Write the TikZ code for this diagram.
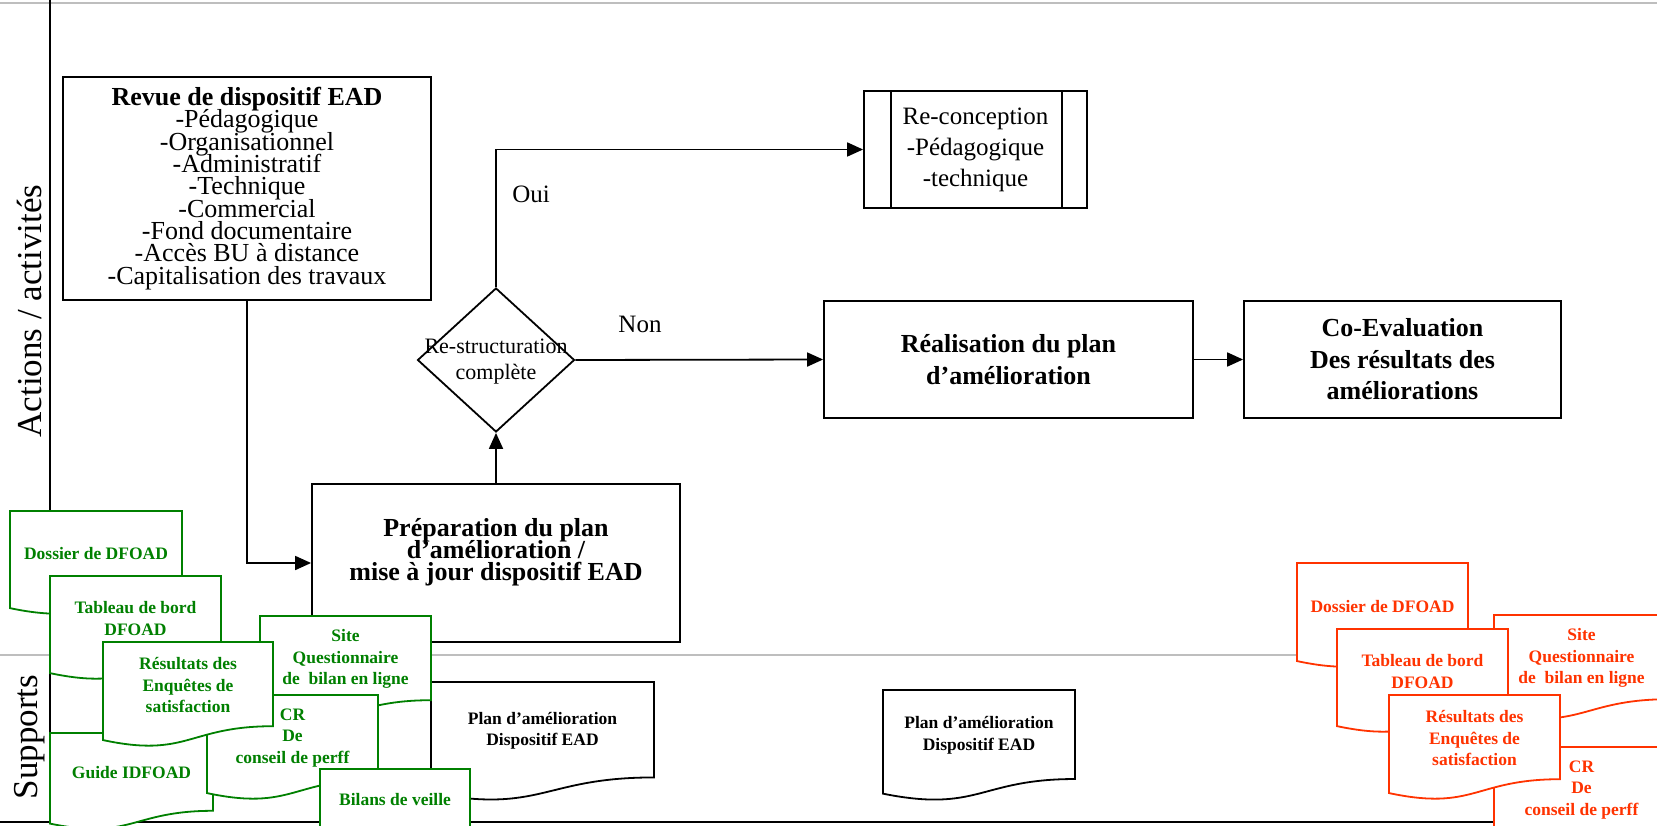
\documentclass[tikz,border=0pt]{standalone}
\usepackage{fontspec}
\setmainfont{Liberation Serif}
\usetikzlibrary{shapes.geometric,arrows.meta}
\definecolor{docgreen}{RGB}{0,128,0}
\definecolor{docred}{RGB}{255,51,0}
\definecolor{lanegray}{RGB}{190,190,190}
\newcommand\tightlines{\lineskiplimit=-100pt\lineskip=0pt}
\tikzset{
  boxline/.style={draw=black,line width=1.8pt,fill=white,inner sep=0pt,align=center},
  arr/.style={line width=1.8pt,-{Triangle[length=16pt,width=14pt]}},
  docline/.style={line width=1.8pt},
  doctext/.style={inner sep=0pt,align=center,font=\bfseries\fontsize{17.5}{21.5}\selectfont\tightlines},
  lane/.style={line width=2pt,draw=lanegray},
  axislabel/.style={rotate=90,inner sep=0pt,font=\fontsize{35}{40}\selectfont},
  flowlabel/.style={inner sep=0pt,font=\fontsize{25}{30}\selectfont}
}
% #1 name, #2 x0, #3 y0, #4 width, #5 height, #6 colour, #7 text
\newcommand\supdoc[7]{%
  \filldraw[docline,draw=#6,fill=white] (#2,#3) -- ({#2+#4},#3) -- ({#2+#4},{#3+0.802*#5})
    .. controls ({#2+0.5*#4},{#3+0.802*#5}) and ({#2+0.5*#4},{#3+1.1075*#5}) .. (#2,{#3+0.934*#5}) -- cycle;
  \node[doctext,text=#6] (#1) at ({#2+0.5*#4},{#3+0.41*#5}) {#7};
}
\begin{document}
\begin{tikzpicture}[x=1pt,y=-1pt]
\useasboundingbox (0,0) rectangle (1657,826);
\clip (0,0) rectangle (1657,826);
% lanes
\coordinate (topL) at (0,3);
\coordinate (topR) at (1657,3);
\coordinate (midL) at (0,655);
\coordinate (midR) at (1657,655);
\coordinate (botL) at (0,822);
\coordinate (botR) at (1657,822);
\coordinate (vtop) at (50,0);
\coordinate (vbot) at (50,822);
\draw[lane] (topL) -- (topR);
\draw[lane] (midL) -- (midR);
\draw[line width=2pt] (botL) -- (botR);
\draw[line width=2pt] (vtop) -- (vbot);
\node[axislabel] (lblact) at (30,311) {Actions / activités};
\node[axislabel] (lblsup) at (30,737) {Supports};

% main boxes
\node[boxline,minimum width=368pt,minimum height=223pt,font=\fontsize{26}{22.3}\selectfont\tightlines] (revue) at (247,188.5)
  {\textbf{Revue de dispositif EAD}\\-Pédagogique\\-Organisationnel\\-Administratif\\-Technique\\-Commercial\\-Fond documentaire\\-Accès BU à distance\\-Capitalisation des travaux};
\node[boxline,minimum width=368pt,minimum height=158pt] (prep) at (496,563) {};
\node[inner sep=0pt,align=center,font=\bfseries\fontsize{26}{22}\selectfont\tightlines] (preptext) at (496,552)
  {Préparation du plan\\d’amélioration /\\mise à jour dispositif EAD};
\node[diamond,draw,line width=1.8pt,fill=white,minimum width=157pt,minimum height=144pt,inner sep=0pt] (dia) at (496,360) {};
\node[inner sep=0pt,align=center,font=\fontsize{22}{26}\selectfont] (diatext) at (496,362) {Re-structuration\\complète};
\node[boxline,minimum width=223pt,minimum height=117pt,font=\fontsize{25}{31}\selectfont] (recon) at (975.5,149.5)
  {Re-conception\\-Pédagogique\\-technique};
\draw[line width=1.8pt] ([xshift=28pt]recon.north west) -- ([xshift=28pt]recon.south west);
\draw[line width=1.8pt] ([xshift=-26pt]recon.north east) -- ([xshift=-26pt]recon.south east);
\node[boxline,minimum width=369pt,minimum height=117pt,font=\bfseries\fontsize{26}{32}\selectfont] (real) at (1008.5,359.5)
  {Réalisation du plan\\d’amélioration};
\node[boxline,minimum width=317pt,minimum height=117pt,font=\bfseries\fontsize{26}{31.5}\selectfont] (coeval) at (1402.5,359.5)
  {Co-Evaluation\\Des résultats des\\améliorations};

% connectors
\draw[arr] (revue.south) |- (prep.west);
\draw[arr] (prep.north) -- (dia.south);
\draw[arr] (dia.north) |- (recon.west);
\draw[arr] (dia.east) -- (real.west);
\draw[arr] (real.east) -- (coeval.west);
\node[flowlabel] (oui) at (531,194) {Oui};
\node[flowlabel] (non) at (640,324) {Non};

% supports (documents)
\supdoc{plan1}{431}{682}{223}{119}{black}{Plan d’amélioration\\Dispositif EAD}
\supdoc{plan2}{883}{690}{192}{111}{black}{Plan d’amélioration\\Dispositif EAD}
\supdoc{gdossier}{10}{511}{172}{104}{docgreen}{Dossier de DFOAD}
\supdoc{gtableau}{50}{576}{171}{104}{docgreen}{Tableau de bord\\DFOAD}
\supdoc{gguide}{50}{733}{163}{97}{docgreen}{Guide IDFOAD}
\supdoc{gsite}{260}{616}{171}{105}{docgreen}{Site\\Questionnaire\\de\ \ bilan en ligne}
\supdoc{gcr}{207}{695}{171}{105}{docgreen}{CR\\De\\conseil de perff}
\supdoc{gresult}{103}{642}{170}{105}{docgreen}{Résultats des\\Enquêtes de\\satisfaction}
\supdoc{gbilans}{320}{769}{150}{75}{docgreen}{Bilans de veille}

\supdoc{rsite}{1494}{615}{175}{105}{docred}{Site\\Questionnaire\\de\ \ bilan en ligne}
\supdoc{rcr}{1494}{747}{175}{105}{docred}{CR\\De\\conseil de perff}
\supdoc{rdossier}{1297}{563}{171}{105}{docred}{Dossier de DFOAD}
\supdoc{rtableau}{1337}{629}{171}{104}{docred}{Tableau de bord\\DFOAD}
\supdoc{rresult}{1389}{695}{171}{105}{docred}{Résultats des\\Enquêtes de\\satisfaction}
\end{tikzpicture}
\end{document}
